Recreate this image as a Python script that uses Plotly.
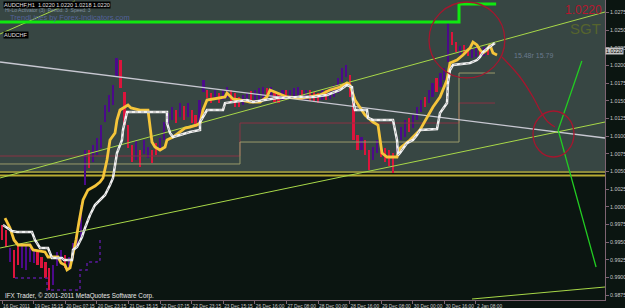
import plotly.graph_objects as go

# ---------------- data ----------------
# price bars (one per hour index)
bar_high = [0.99742,0.99671,0.99416,0.99388,0.99459,0.99487,0.99459,0.99416,0.99388,0.99360,
            0.99289,0.99218,0.99133,0.99176,0.99360,0.99388,0.99317,0.99289,0.99487,0.99643,
            1.00025,1.00804,1.00804,1.00875,1.00974,1.01158,1.01441,1.01583,1.01724,1.02107,
            1.02078,1.01625,1.01158,1.00875,1.00946,1.00804,1.00946,1.00846,1.00804,1.00903,
            1.00974,1.01200,1.01328,1.01413,1.01370,1.01469,1.01427,1.01469,1.01370,1.01300,
            1.01512,1.01795,1.01654,1.01611,1.01654,1.01611,1.01654,1.01696,1.01654,1.01611,
            1.01555,1.01583,1.01611,1.01639,1.01654,1.01682,1.01696,1.01682,1.01696,1.01625,
            1.01611,1.01654,1.01654,1.01654,1.01682,1.01696,1.01654,1.01654,1.01654,1.01625,
            1.01611,1.01654,1.01654,1.01682,1.01724,1.01823,1.01965,1.02008,1.01866,1.01512,
            1.01016,1.00988,1.00946,1.00804,1.00846,1.00946,1.00903,1.00832,1.00804,1.00761,
            1.00988,1.01129,1.01229,1.01257,1.01300,1.01413,1.01512,1.01555,1.01654,1.01753,
            1.01823,1.01894,1.01965,1.02602,1.02475,1.02333,1.02277,1.02291,1.02248,1.02234,
            1.02262,1.02248,1.02262,1.02248]
bar_low = [0.99530,0.99430,0.99218,0.98991,0.99176,0.99133,0.99105,0.99218,0.99204,0.99176,
           0.99133,0.98991,0.98822,0.98892,0.99162,0.99204,0.99133,0.99105,0.99275,0.99416,
           0.99530,1.00308,1.00549,1.00634,1.00733,1.00832,1.01200,1.01342,1.01441,1.01838,
           1.01682,1.01158,1.00832,1.00634,1.00662,1.00563,1.00747,1.00690,1.00620,1.00733,
           1.00804,1.00946,1.01129,1.01229,1.01186,1.01271,1.01229,1.01271,1.01186,1.01129,
           1.01158,1.01625,1.01540,1.01469,1.01512,1.01469,1.01512,1.01540,1.01469,1.01413,
           1.01413,1.01441,1.01469,1.01498,1.01469,1.01512,1.01512,1.01555,1.01555,1.01484,
           1.01469,1.01512,1.01512,1.01526,1.01540,1.01555,1.01512,1.01512,1.01498,1.01484,
           1.01469,1.01512,1.01512,1.01526,1.01555,1.01611,1.01767,1.01838,1.01555,1.00946,
           1.00804,1.00804,1.00733,1.00521,1.00662,1.00761,1.00705,1.00634,1.00577,1.00478,
           1.00776,1.00946,1.00988,1.01059,1.01115,1.01229,1.01342,1.01413,1.01469,1.01555,
           1.01625,1.01696,1.01795,1.02050,1.02291,1.02192,1.02149,1.02149,1.02135,1.02107,
           1.02121,1.02149,1.02135,1.02149]
bar_dir = [-1,-1,1,-1,-1,1,1,1,1,-1,
           -1,-1,-1,1,1,1,-1,1,1,1,
           1,1,-1,1,1,1,1,1,1,1,
           -1,-1,-1,-1,1,-1,1,1,-1,-1,
           1,1,1,1,-1,1,-1,1,-1,-1,
           1,1,-1,-1,1,-1,1,1,-1,-1,
           -1,1,1,-1,1,1,1,-1,1,-1,
           -1,1,-1,1,1,1,-1,1,-1,-1,
           -1,1,-1,1,1,1,1,1,-1,-1,
           -1,1,-1,-1,1,1,-1,-1,-1,-1,
           1,1,1,-1,1,1,1,-1,1,1,
           -1,1,1,1,-1,-1,1,-1,-1,1,
           1,-1,1,-1]

# yellow (fast) step line
yellow_t = [0.76,2.03,3.04,4.05,7.09,7.85,10.89,11.65,14.18,14.94,15.95,16.46,17.22,17.97,18.73,19.49,
            20.51,21.77,23.54,24.81,25.57,26.58,27.34,28.61,29.11,29.87,31.14,31.90,32.66,34.94,36.96,
            37.47,37.97,38.73,40.00,41.27,41.77,43.29,45.06,46.33,47.59,49.37,50.13,50.89,51.90,54.43,
            56.46,56.96,58.48,60.25,62.78,65.32,67.09,67.85,69.62,72.15,75.44,77.97,80.51,83.04,85.57,
            87.34,88.10,89.37,91.90,93.92,95.19,95.70,96.20,97.47,100.00,100.76,103.29,105.82,107.59,
            109.11,110.89,112.66,113.42,115.19,116.71,118.48,119.24,120.25,121.01,121.77,122.78,123.54,
            124.30,125.32]
yellow_v = [0.99841,0.99700,0.99530,0.99459,0.99459,0.99388,0.99360,0.99289,0.99289,0.99204,0.99176,
            0.99105,0.99133,0.99317,0.99530,0.99785,1.00096,1.00238,1.00294,1.00351,1.00408,1.00662,
            1.00946,1.01045,1.01229,1.01370,1.01413,1.01441,1.01399,1.01370,1.01370,1.01158,1.00917,
            1.00846,1.00804,1.00846,1.00946,1.00988,1.01059,1.01115,1.01129,1.01158,1.01186,1.01370,
            1.01512,1.01540,1.01555,1.01611,1.01526,1.01512,1.01484,1.01484,1.01555,1.01654,1.01611,
            1.01555,1.01540,1.01555,1.01583,1.01654,1.01696,1.01753,1.01724,1.01512,1.01300,1.01200,
            1.01158,1.00946,1.00761,1.00705,1.00705,1.00832,1.00946,1.01087,1.01271,1.01413,1.01555,
            1.01795,1.02036,1.02078,1.02149,1.02248,1.02333,1.02291,1.02220,1.02178,1.02220,1.02291,
            1.02178,1.02149]

# white (slow) step line
white_t = [0.25,1.52,2.53,3.80,7.59,8.35,9.11,9.62,11.65,12.15,12.66,15.19,15.70,17.72,17.97,18.99,
           20.25,21.01,22.28,23.54,24.81,26.08,27.34,28.10,29.11,30.38,30.63,31.14,31.65,41.77,41.77,
           42.53,43.29,45.06,47.59,50.13,50.13,51.90,55.95,56.46,58.48,62.03,63.54,67.09,69.62,75.44,
           78.73,82.28,85.57,87.34,88.61,88.86,89.37,92.41,92.66,93.92,98.99,99.49,100.00,100.25,
           100.76,102.53,104.05,105.06,105.82,110.13,110.89,112.66,112.91,113.42,114.18,118.48,
           120.25,121.01,121.77,123.04,124.05,124.81]
white_v = [0.99742,0.99700,0.99657,0.99643,0.99643,0.99530,0.99459,0.99416,0.99416,0.99346,0.99275,
           0.99275,0.99246,0.99246,0.99388,0.99430,0.99572,0.99700,0.99884,1.00025,1.00096,1.00167,
           1.00308,1.00408,1.00761,1.00946,1.01087,1.01229,1.01342,1.01342,1.01186,1.01045,1.00988,
           1.01016,1.01059,1.01087,1.01200,1.01370,1.01370,1.01469,1.01484,1.01512,1.01484,1.01512,
           1.01540,1.01555,1.01555,1.01583,1.01654,1.01724,1.01696,1.01512,1.01370,1.01370,1.01257,
           1.01229,1.01229,1.01087,1.00946,1.00733,1.00761,1.00903,1.00946,1.01016,1.01087,1.01101,
           1.01328,1.01469,1.01753,1.01937,1.02008,1.02036,1.02078,1.02121,1.02192,1.02248,1.02291,
           1.02319]

# dotted lower band
band_t = [3.29, 9.62, 11.39, 19.75, 19.75, 21.52, 24.05, 24.81]
band_v = [0.98991, 0.98991, 0.98822, 0.98822, 0.99105, 0.99218, 0.99246, 0.99530]

# stepped session levels
level_t = [-0.5, 60.25, 115.70, 124.81]
level_red_v = [1.00719, 1.01186, 1.01469, 1.01469]
level_box_v = [1.00606, 1.00917, 1.01894, 1.01894]

# thick bright green step
gstep_t = [-0.5, 115.7, 125.1]
gstep_v = [1.02616, 1.02871, 1.02871]

# trend lines (two anchor points each)
gray_t, gray_v = [-0.5, 152.66], [1.0205, 1.00974]
chanA_t, chanA_v = [-0.5, 152.66], [1.00408, 1.02758]
chanB_t, chanB_v = [-0.5, 152.66], [0.99416, 1.01200]
chanC_t, chanC_v = [119.0, 152.66], [0.98694, 0.98864]
steep_t, steep_v = [-0.5, 18.48], [1.02447, 1.02914]
vee_t, vee_v = [146.8, 140.8, 150.4], [1.02064, 1.01087, 0.99147]
curve_t = [126.58, 131.14, 134.43, 136.46, 138.23, 140.0]
curve_v = [1.02121, 1.01838, 1.01555, 1.01342, 1.01200, 1.01129]

# x tick labels
xtick_vals = [0, 8, 16, 24, 32, 40, 48, 56, 64, 72, 80, 88, 96, 104, 112, 120]
xtick_text = ["16 Dec 2011", "19 Dec 15:15", "20 Dec 07:15", "20 Dec 23:15", "21 Dec 15:15",
              "22 Dec 07:15", "22 Dec 23:15", "23 Dec 15:15", "26 Dec 16:00", "27 Dec 08:00",
              "28 Dec 00:00", "28 Dec 16:00", "29 Dec 08:00", "30 Dec 00:00", "30 Dec 16:00",
              "2 Jan 08:00"]

last_price = 1.0220
upper_zone_bottom = 1.00507
band_lines_v = [1.00493, 1.00443]

X_RANGE = [-0.506, 152.66]
Y_RANGE = [0.98680, 1.02928]

# ---------------- figure ----------------
fig = go.Figure()
FONT = "Liberation Sans"

def line(t, v, color, width, dash="solid", shape="linear"):
    fig.add_trace(go.Scatter(x=t, y=v, mode="lines", line=dict(color=color, width=width, dash=dash, shape=shape),
                             hoverinfo="skip", showlegend=False, cliponaxis=True))

# session levels
line(level_t, level_red_v, "#8a3344", 1, shape="hv")
line(level_t, level_box_v, "#9a9a6a", 1, shape="hv")

# price bars
idx = list(range(len(bar_high)))
fig.add_trace(go.Bar(x=idx, base=bar_low, y=[h - l for h, l in zip(bar_high, bar_low)],
                     width=0.55, marker=dict(color=["#4b0a8a" if d > 0 else "#dc143c" for d in bar_dir], line_width=0),
                     hoverinfo="skip", showlegend=False))

line(band_t, band_v, "#5a1a9a", 1.5, dash="dot", shape="hv")

# trend lines
line(gray_t, gray_v, "#c8c8d2", 1.3)
line(chanA_t, chanA_v, "#a8d848", 1)
line(chanB_t, chanB_v, "#a8d848", 1)
line(chanC_t, chanC_v, "#a8d848", 1)
line(steep_t, steep_v, "#a8d848", 1)
line(vee_t, vee_v, "#22cc22", 1.3)
line(gstep_t, gstep_v, "#10e810", 3, shape="hv")

# indicator lines
line(yellow_t, yellow_v, "#f5c53a", 2.8)
line(white_t, white_v, "#f2f2f2", 2.5)
line(white_t, white_v, "#a8a8a8", 1, dash="dot")

# callout curve
line(curve_t, curve_v, "#a5162e", 1.3, shape="spline")

shapes = [
    dict(type="rect", xref="paper", x0=0, x1=1, yref="y", y0=upper_zone_bottom, y1=Y_RANGE[1],
         fillcolor="#374643", line_width=0, layer="below"),
    dict(type="line", xref="paper", x0=0, x1=1, yref="y", y0=band_lines_v[0], y1=band_lines_v[0],
         line=dict(color="#8c8a3c", width=2), layer="below"),
    dict(type="line", xref="paper", x0=0, x1=1, yref="y", y0=band_lines_v[1], y1=band_lines_v[1],
         line=dict(color="#b8aa32", width=2), layer="below"),
    dict(type="circle", xref="x", yref="y", x0=108.1, x1=127.3, y0=1.01824, y1=1.0290,
         line=dict(color="#a5162e", width=1.3)),
    dict(type="circle", xref="x", yref="y", x0=134.43, x1=144.81, y0=1.00705, y1=1.01356,
         line=dict(color="#a5162e", width=1.3)),
]

def px(x):
    return x / 605.0

def py(y):
    return 1 - y / 300.0

annotations = [
    dict(text="AUDCHF,H1  1.0220 1.0220 1.0218 1.0220", x=px(3), y=py(4.5), xanchor="left", yanchor="middle",
         font=dict(family=FONT, size=5.5, color="#e0e0e0"), bgcolor="#000000", borderpad=0),
    dict(text="Hi-Lo Activator (3)  Period: 3  Speed: 3", x=px(3), y=py(10), xanchor="left", yanchor="middle",
         font=dict(family=FONT, size=5, color="#7f8fa0")),
    dict(text="TrendLines by Forex-Indicators.com", x=px(8), y=py(17.5), xanchor="left", yanchor="middle",
         font=dict(family=FONT, size=7.5, color="#52629a")),
    dict(text="AUDCHF", x=px(3), y=py(34.5), xanchor="left", yanchor="middle",
         font=dict(family=FONT, size=5.5, color="#e0e0e0"), bgcolor="#000000", borderpad=0),
    dict(text="SGT", x=px(603), y=py(28.5), xanchor="right", yanchor="middle",
         font=dict(family=FONT, size=15, color="#56642e")),
    dict(text="1.0220", x=px(604), y=py(10), xanchor="right", yanchor="middle",
         font=dict(family=FONT, size=12, color="#b4182e")),
    dict(text="15.48r 15.79", x=px(512), y=py(55), xanchor="left", yanchor="middle",
         font=dict(family=FONT, size=7, color="#6a7a8e")),
    dict(text="IFX Trader, \u00a9 2001-2011 MetaQuotes Software Corp.", x=px(3), y=py(295.5),
         xanchor="left", yanchor="middle", font=dict(family=FONT, size=6.3, color="#e8e8e8")),
    dict(text="1.0220", xref="paper", x=1.0, yref="y", y=last_price, xanchor="left", yanchor="middle",
         font=dict(family=FONT, size=5.5, color="#000000"), bgcolor="#c4c4c4", borderpad=0, showarrow=False),
]
for a in annotations:
    a.setdefault("xref", "paper")
    a.setdefault("yref", "paper")
    a["showarrow"] = False

AX = "#7e6472"
fig.update_layout(
    width=625, height=308,
    margin=dict(l=0, r=20, t=0, b=8),
    paper_bgcolor="#0b1511", plot_bgcolor="#0b1511",
    barmode="overlay", bargap=0, hovermode=False, showlegend=False,
    shapes=shapes, annotations=annotations,
    font=dict(family=FONT, size=6, color="#c8c8c8"),
    xaxis=dict(range=X_RANGE, showgrid=False, zeroline=False, showline=True, linecolor=AX, linewidth=1,
               ticks="outside", ticklen=3, tickcolor=AX, tickvals=xtick_vals, ticktext=xtick_text,
               tickangle=0, ticklabelposition="outside right", ticklabelstandoff=1,
               tickfont=dict(family=FONT, size=4.8, color="#c8c8c8")),
    yaxis=dict(range=Y_RANGE, side="right", showgrid=False, zeroline=False, showline=True, linecolor=AX,
               linewidth=1, ticks="outside", ticklen=3, tickcolor=AX, tick0=0.9875, dtick=0.0025,
               tickformat=".4f", tickfont=dict(family=FONT, size=5.3, color="#c8c8c8")),
)

fig.write_html("out.html")
